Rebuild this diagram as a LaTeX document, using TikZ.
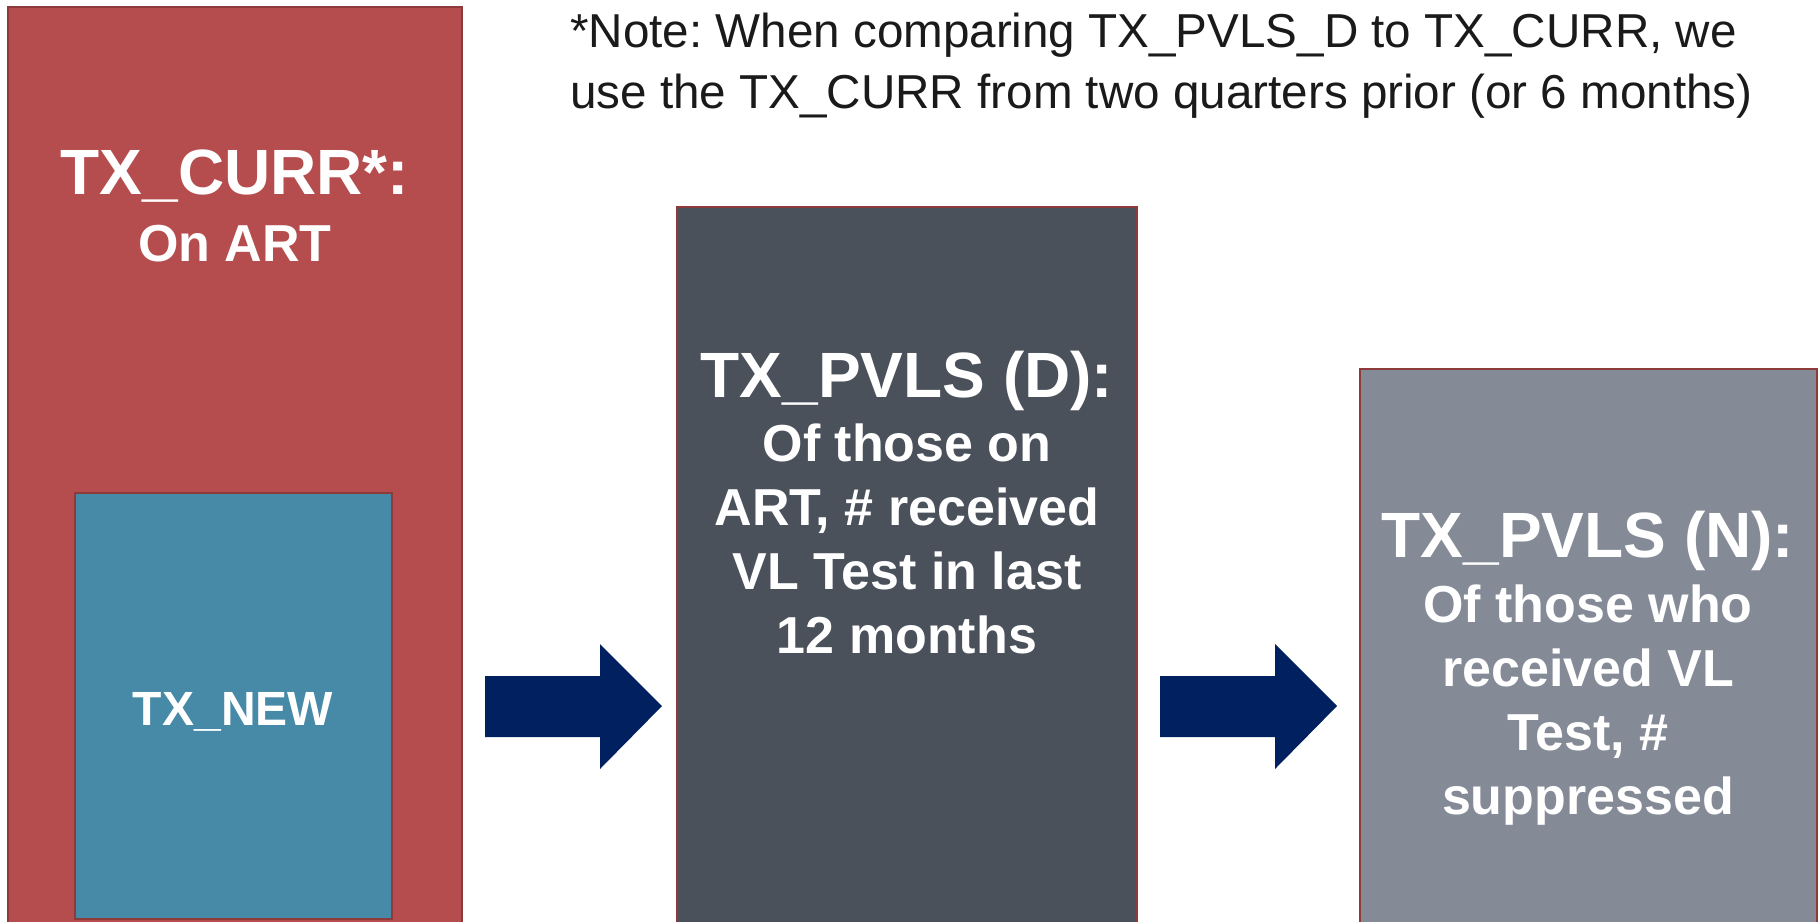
\documentclass[tikz,border=0pt]{standalone}
\usepackage{fontspec}
\setmainfont{Liberation Sans}
\frenchspacing
\definecolor{currred}{RGB}{181,76,77}
\definecolor{newteal}{RGB}{70,138,168}
\definecolor{dslate}{RGB}{74,81,90}
\definecolor{nslate}{RGB}{133,139,150}
\definecolor{edgered}{RGB}{140,58,58}
\definecolor{navy}{RGB}{0,32,96}
\definecolor{notegray}{RGB}{26,26,26}
% centred stack of lines whose baseline is the first line
\newcommand\stacklines[1]{\begin{tabular}[t]{@{}c@{}}#1\end{tabular}}
\newcommand\leftlines[1]{\begin{tabular}[t]{@{}l@{}}#1\end{tabular}}
\begin{document}
\begin{tikzpicture}[x=1pt,y=-1pt,
  panel/.style={draw=edgered, line width=2.5pt, anchor=north west,
                inner sep=0pt, outer sep=0pt},
  title/.style={text=white, anchor=base, inner sep=0pt,
                font=\fontsize{64}{64}\selectfont\bfseries},
  body/.style={text=white, anchor=base, inner sep=0pt,
               font=\fontsize{52}{64}\selectfont\bfseries},
  blockarrow/.style={fill=navy}]
\useasboundingbox (0,0) rectangle (1819,921);
\fill[white] (0,0) rectangle (1819,921);
\clip (0,0) rectangle (1819,921);

% panels
\node[panel, fill=currred, minimum width=454pt, minimum height=930pt] (curr) at (8,7) {};
\node[panel, fill=newteal, minimum width=317pt, minimum height=426pt] (new) at (75,493) {};
\node[panel, fill=dslate, minimum width=460pt, minimum height=730pt] (pvlsd) at (677,207) {};
\node[panel, fill=nslate, minimum width=457pt, minimum height=570pt] (pvlsn) at (1360,369) {};

% panel texts
\node[title] (currtitle) at (235,194) {TX\_CURR*:};
\node[body] (currbody) at (235,261) {On ART};
\node[body, font=\fontsize{48}{58}\selectfont\bfseries] (newtitle) at (233,725) {TX\_NEW};

\node[title] (dtitle) at (907,397) {TX\_PVLS (D):};
\node[body] (dbody) at (907,461) {\stacklines{Of those on\\ART, \# received\\VL Test in last\\12 months}};

\node[title] (ntitle) at (1588,557) {TX\_PVLS (N):};
\node[body] (nbody) at (1588,622) {\stacklines{Of those who\\received VL\\Test, \#\\suppressed}};

% note
\node[anchor=base west, inner sep=0pt, text=notegray,
      font=\fontsize{47.6}{61}\selectfont] (note) at (570,47)
  {\leftlines{*Note: When comparing TX\_PVLS\_D to TX\_CURR, we\\use the TX\_CURR from two quarters prior (or 6 months)}};

% block arrows between panels
\fill[blockarrow] (485,676) -- (600,676) -- (600,644) -- (662,706)
  -- (600,769) -- (600,737) -- (485,737) -- cycle;
\fill[blockarrow] (1160,676) -- (1275,676) -- (1275,644) -- (1337,706)
  -- (1275,769) -- (1275,737) -- (1160,737) -- cycle;
\end{tikzpicture}
\end{document}
